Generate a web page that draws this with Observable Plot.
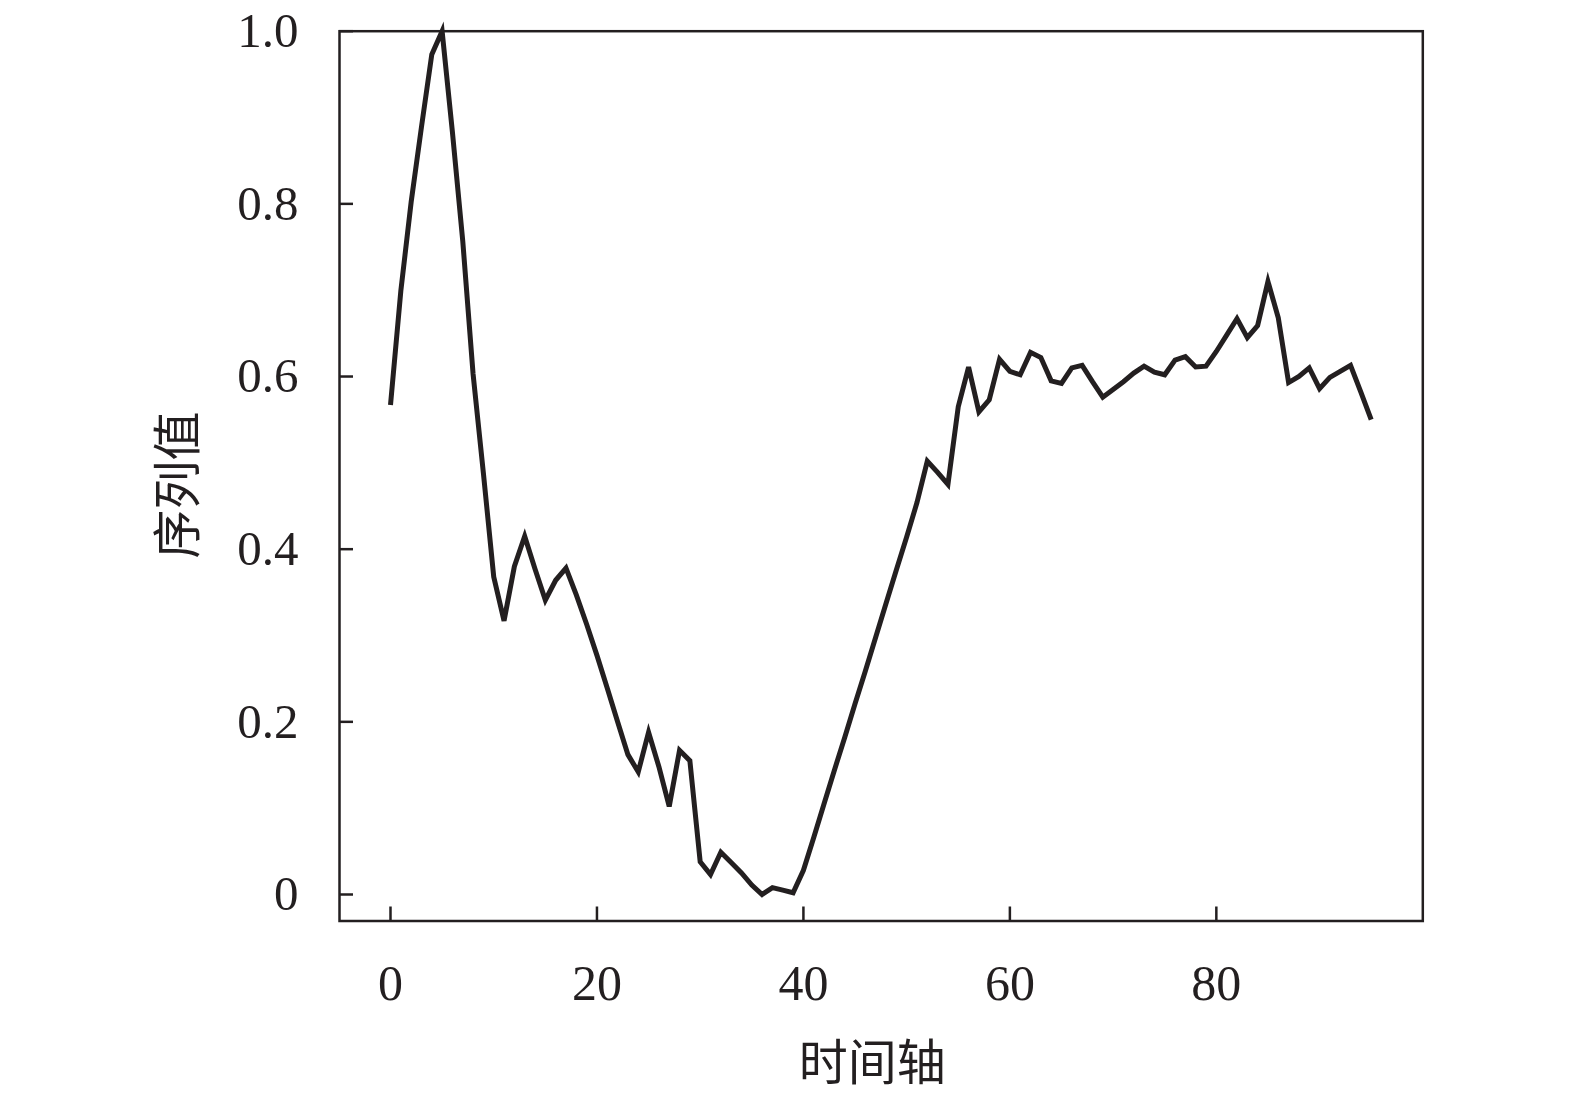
<!DOCTYPE html>
<html>
<head>
<meta charset="utf-8">
<script src="https://cdn.jsdelivr.net/npm/d3@7"></script>
<script src="https://cdn.jsdelivr.net/npm/@observablehq/plot@0.6"></script>
<style>
html, body { margin: 0; padding: 0; background: #fff; overflow: hidden; }
#chart svg { display: block; max-width: none !important; width: 1575px; height: 1094px; }
</style>
</head>
<body>
<div id="chart"></div>
<script>
// 序列值 (index 0..95)
const seriesValues = [
  0.567, 0.699, 0.802, 0.889, 0.973, 1.000, 0.883, 0.757, 0.603, 0.488,
  0.368, 0.317, 0.380, 0.415, 0.377, 0.341, 0.364, 0.378, 0.347, 0.313,
  0.277, 0.239, 0.200, 0.162, 0.142, 0.188, 0.148, 0.102, 0.167, 0.155,
  0.038, 0.023, 0.049, 0.037, 0.025, 0.011, 0.000, 0.008, 0.005, 0.002,
  0.028, 0.066, 0.105, 0.144, 0.182, 0.221, 0.259, 0.298, 0.337, 0.376,
  0.414, 0.454, 0.502, 0.489, 0.475, 0.565, 0.611, 0.559, 0.573, 0.620,
  0.606, 0.602, 0.628, 0.622, 0.595, 0.592, 0.610, 0.613, 0.594, 0.576,
  0.585, 0.594, 0.604, 0.612, 0.605, 0.602, 0.619, 0.623, 0.611, 0.612,
  0.629, 0.648, 0.667, 0.645, 0.659, 0.710, 0.668, 0.593, 0.600, 0.610,
  0.586, 0.599, 0.606, 0.613, 0.582, 0.550
];
const xTicks = [0, 20, 40, 60, 80];
const yTicks = [0, 0.2, 0.4, 0.6, 0.8, 1.0];
const yTickLabels = ["0", "0.2", "0.4", "0.6", "0.8", "1.0"];
const xTitle = ["时间轴"];
const yTitle = ["序列值"];

const ink = "#231f20";
const latin = "'Liberation Serif', 'Times New Roman', 'Noto Sans CJK SC', serif";
const cjk = "'Noto Sans CJK SC', 'Liberation Serif', sans-serif";

const chart = Plot.plot({
  width: 1575,
  height: 1094,
  marginLeft: 339,
  marginRight: 152.7,
  marginTop: 30.7,
  marginBottom: 173.5,
  style: { fontFamily: latin, fontSize: "49px", color: ink, background: "#fff", overflow: "visible" },
  x: { domain: [-4.94, 100.0] },
  y: { domain: [-0.0307, 1] },
  marks: [
    Plot.axisX(xTicks, { tickSize: -14, strokeWidth: 2.5, stroke: ink, text: null, label: null }),
    Plot.axisX(xTicks, { tickSize: 0, tickPadding: 43, fill: ink, fontSize: 50, label: null }),
    Plot.axisY(yTicks, { tickSize: -14, strokeWidth: 2.5, stroke: ink, text: null, label: null }),
    Plot.axisY(yTicks, { tickSize: 0, tickPadding: 41, fill: ink, fontSize: 49, label: null,
      tickFormat: (d) => yTickLabels[yTicks.indexOf(d)] }),
    Plot.frame({ stroke: ink, strokeWidth: 2.5 }),
    Plot.lineY(seriesValues, { stroke: ink, strokeWidth: 5, strokeLinejoin: "miter", strokeLinecap: "butt", strokeMiterlimit: 4 }),
    Plot.text(xTitle, { frameAnchor: "bottom", textAnchor: "middle", dx: -9, dy: 143, fontFamily: cjk, fontSize: 49, fill: ink, lineAnchor: "middle" }),
    Plot.text(yTitle, { frameAnchor: "left", textAnchor: "middle", dx: -160, dy: 9, rotate: -90, fontFamily: cjk, fontSize: 49, fill: ink, lineAnchor: "middle" })
  ]
});
document.getElementById("chart").append(chart);
</script>
</body>
</html>
